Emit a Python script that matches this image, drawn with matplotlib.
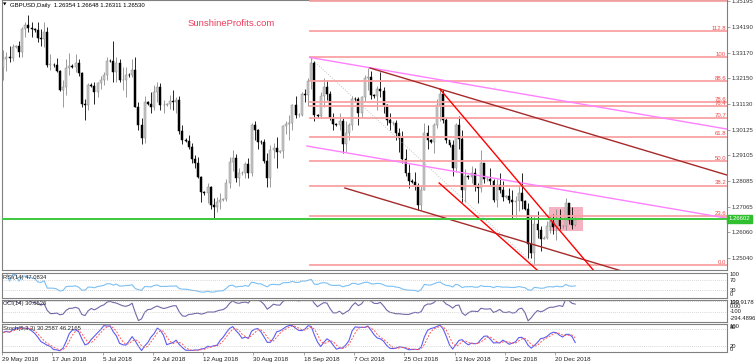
import numpy as np
import pandas as pd
import matplotlib
matplotlib.use("Agg")
import matplotlib.pyplot as plt
import matplotlib.transforms as mtransforms
from matplotlib.patches import Rectangle

plt.rcParams['font.family'] = ['Liberation Sans', 'DejaVu Sans']

# ---- price data (daily bars incl. short Sunday bars) ----
first_open = 1.3255
highs = [1.3327, 1.3320, 1.3345, 1.3350, 1.3348, 1.3365, 1.3420, 1.3440, 1.3468, 1.3440,
         1.3415, 1.3440, 1.3410, 1.3440, 1.3418, 1.3310, 1.3275, 1.3295, 1.3250, 1.3210,
         1.3290, 1.3315, 1.3272, 1.3310, 1.3290, 1.3240, 1.3135, 1.3195, 1.3195, 1.3200,
         1.3200, 1.3225, 1.3240, 1.3300, 1.3292, 1.3363, 1.3300, 1.3290, 1.3260, 1.3260,
         1.3236, 1.3290, 1.3300, 1.3120, 1.3060, 1.3145, 1.3125, 1.3160, 1.3190, 1.3200,
         1.3195, 1.3130, 1.3118, 1.3150, 1.3170, 1.3140, 1.3145, 1.3030, 1.2978, 1.2990,
         1.2960, 1.2910, 1.2905, 1.2830, 1.2770, 1.2800, 1.2790, 1.2740, 1.2745, 1.2760,
         1.2742, 1.2815, 1.2905, 1.2930, 1.2915, 1.2860, 1.2848, 1.2885, 1.2900, 1.3040,
         1.3045, 1.3015, 1.2972, 1.2975, 1.2920, 1.2950, 1.2960, 1.2985, 1.2932, 1.3030,
         1.3045, 1.3070, 1.3115, 1.3145, 1.3078, 1.3160, 1.3175, 1.3215, 1.3298, 1.3285,
         1.3075, 1.3160, 1.3215, 1.3210, 1.3165, 1.3080, 1.3040, 1.3080, 1.3060, 1.3045,
         1.3040, 1.3145, 1.3142, 1.3140, 1.3145, 1.3230, 1.3257, 1.3245, 1.3155, 1.3185,
         1.3240, 1.3180, 1.3115, 1.3080, 1.3048, 1.3050, 1.3020, 1.3005, 1.2935, 1.2875,
         1.2815, 1.2845, 1.2800, 1.2790, 1.3040, 1.3030, 1.2975, 1.3040, 1.3135, 1.3175,
         1.3170, 1.3060, 1.2965, 1.2970, 1.3040, 1.3065, 1.3010, 1.2855, 1.2832, 1.2870,
         1.2860, 1.2800, 1.2930, 1.2875, 1.2830, 1.2860, 1.2815, 1.2815, 1.2840, 1.2810,
         1.2755, 1.2780, 1.2775, 1.2750, 1.2795, 1.2840, 1.2732, 1.2720, 1.2670, 1.2670,
         1.2690, 1.2630, 1.2592, 1.2650, 1.2675, 1.2680, 1.2700, 1.2700, 1.2636, 1.2740,
         1.2720, 1.2705, 1.26648]
lows = [1.3209, 1.3245, 1.3280, 1.3285, 1.3334, 1.3300, 1.3300, 1.3380, 1.3400, 1.3380,
        1.3400, 1.3360, 1.3345, 1.3340, 1.3260, 1.3250, 1.3262, 1.3240, 1.3165, 1.3100,
        1.3150, 1.3230, 1.3258, 1.3240, 1.3225, 1.3100, 1.3050, 1.3090, 1.3180, 1.3115,
        1.3140, 1.3175, 1.3190, 1.3210, 1.3278, 1.3200, 1.3200, 1.3200, 1.3170, 1.3140,
        1.3222, 1.3220, 1.3100, 1.3010, 1.2957, 1.2960, 1.3108, 1.3080, 1.3090, 1.3120,
        1.3090, 1.3080, 1.3105, 1.3095, 1.3090, 1.3080, 1.2995, 1.2955, 1.2962, 1.2935,
        1.2880, 1.2860, 1.2820, 1.2725, 1.2752, 1.2720, 1.2700, 1.2662, 1.2685, 1.2700,
        1.2728, 1.2730, 1.2780, 1.2850, 1.2805, 1.2790, 1.2832, 1.2820, 1.2820, 1.2830,
        1.2970, 1.2935, 1.2955, 1.2880, 1.2785, 1.2785, 1.2900, 1.2860, 1.2918, 1.2900,
        1.2995, 1.2970, 1.3010, 1.3060, 1.3062, 1.3065, 1.3120, 1.3105, 1.3175, 1.3045,
        1.3058, 1.3060, 1.3100, 1.3130, 1.3050, 1.3010, 1.3025, 1.3010, 1.2920, 1.2925,
        1.2970, 1.3010, 1.3126, 1.3030, 1.3060, 1.3125, 1.3170, 1.3135, 1.3138, 1.3090,
        1.3140, 1.3080, 1.3030, 1.3010, 1.3032, 1.2970, 1.2925, 1.2880, 1.2830, 1.2780,
        1.2800, 1.2775, 1.2695, 1.2695, 1.2775, 1.2935, 1.2958, 1.2920, 1.3020, 1.3045,
        1.3040, 1.2960, 1.2945, 1.2830, 1.2845, 1.2935, 1.2725, 1.2725, 1.2815, 1.2800,
        1.2770, 1.2720, 1.2765, 1.2800, 1.2808, 1.2795, 1.2725, 1.2705, 1.2760, 1.2730,
        1.2740, 1.2720, 1.2660, 1.2665, 1.2690, 1.2700, 1.2695, 1.2505, 1.2505, 1.2477,
        1.2585, 1.2530, 1.2578, 1.2580, 1.2605, 1.2600, 1.2575, 1.2620, 1.2624, 1.2615,
        1.2640, 1.2620, 1.26311]
closes = [1.3290, 1.3300, 1.3295, 1.3340, 1.3342, 1.3320, 1.3410, 1.3425, 1.3415, 1.3410,
          1.3405, 1.3375, 1.3370, 1.3400, 1.3270, 1.3270, 1.3268, 1.3245, 1.3170, 1.3180,
          1.3255, 1.3265, 1.3262, 1.3275, 1.3235, 1.3115, 1.3110, 1.3190, 1.3185, 1.3160,
          1.3195, 1.3210, 1.3230, 1.3285, 1.3283, 1.3240, 1.3275, 1.3210, 1.3210, 1.3230,
          1.3228, 1.3250, 1.3100, 1.3030, 1.2980, 1.3120, 1.3115, 1.3100, 1.3160, 1.3180,
          1.3110, 1.3110, 1.3112, 1.3125, 1.3120, 1.3130, 1.3005, 1.2970, 1.2968, 1.2945,
          1.2895, 1.2880, 1.2825, 1.2765, 1.2760, 1.2785, 1.2715, 1.2705, 1.2725, 1.2735,
          1.2738, 1.2800, 1.2885, 1.2900, 1.2820, 1.2840, 1.2842, 1.2875, 1.2840, 1.3030,
          1.3010, 1.2965, 1.2962, 1.2890, 1.2820, 1.2930, 1.2940, 1.2925, 1.2928, 1.3025,
          1.3035, 1.3040, 1.3110, 1.3070, 1.3072, 1.3155, 1.3150, 1.3205, 1.3275, 1.3070,
          1.3065, 1.3145, 1.3180, 1.3155, 1.3060, 1.3035, 1.3032, 1.3045, 1.2955, 1.3000,
          1.3030, 1.3135, 1.3132, 1.3080, 1.3140, 1.3215, 1.3220, 1.3150, 1.3145, 1.3175,
          1.3165, 1.3110, 1.3050, 1.3040, 1.3040, 1.3000, 1.2980, 1.2895, 1.2840, 1.2810,
          1.2805, 1.2790, 1.2715, 1.2775, 1.3000, 1.2970, 1.2965, 1.3030, 1.3110, 1.3155,
          1.3050, 1.2970, 1.2950, 1.2860, 1.3030, 1.2975, 1.2775, 1.2830, 1.2825, 1.2840,
          1.2790, 1.2780, 1.2880, 1.2815, 1.2818, 1.2810, 1.2735, 1.2795, 1.2775, 1.2745,
          1.2750, 1.2735, 1.2725, 1.2730, 1.2760, 1.2730, 1.2700, 1.2560, 1.2525, 1.2640,
          1.2615, 1.2580, 1.2585, 1.2630, 1.2645, 1.2625, 1.2660, 1.2630, 1.2632, 1.2720,
          1.2655, 1.26354, 1.26530]

# trading calendar of the broker: every day except Saturday, no bar on Christmas
all_days = pd.date_range('2018-05-29', '2018-12-28', freq='D')
dates = all_days[(all_days.dayofweek != 5) & (all_days != pd.Timestamp('2018-12-25'))]

tick_dates = ['2018-05-29', '2018-06-17', '2018-07-05', '2018-07-24', '2018-08-12', '2018-08-30',
              '2018-09-18', '2018-10-07', '2018-10-25', '2018-11-13', '2018-12-02', '2018-12-20']
tick_labels = ['29 May 2018', '17 Jun 2018', '5 Jul 2018', '24 Jul 2018', '12 Aug 2018', '30 Aug 2018',
               '18 Sep 2018', '7 Oct 2018', '25 Oct 2018', '13 Nov 2018', '2 Dec 2018', '20 Dec 2018']

price_ticks = [1.35195, 1.34190, 1.33170, 1.32150, 1.31130, 1.30125, 1.29105,
               1.28085, 1.27065, 1.26060, 1.25040]

# fibonacci retracement between the 20 Sep high and the 12 Dec low
fib_high = 1.3298
fib_low = 1.2477
fib_levels = [0.0, 23.6, 38.2, 50.0, 61.8, 70.7, 76.4, 78.6, 88.6, 100.0, 112.8, 127.2]
fib_labels = ['0.0', '23.6', '38.2', '50.0', '61.8', '70.7', '76.4', '78.6', '88.6', '100', '112.8', '']
fib_start = 97.6

support_level = 1.26602

# drawn trend lines as (bar, price) -> (bar, price), extended to the right
pink_upper = [(97.6, 1.3298), (200.0, 1.30792)]
pink_lower = [(96.6, 1.29474), (200.0, 1.27264)]
brown_upper = [(116.7, 1.32562), (200.0, 1.29455)]
brown_lower = [(108.7, 1.27812), (200.0, 1.24407)]
red_upper = [(139.0, 1.3172), (187.7, 1.2457)]
red_lower = [(138.7, 1.2801), (169.2, 1.2464)]
fib_diag = [(97.6, 1.3298), (169.0, 1.2477)]
range_box = [173.7, 184.5, 1.2611, 1.2706]

# ---- derived series ----
opens = [first_open] + closes[:-1]
x = np.arange(len(closes))
o = np.array(opens)
c = np.array(closes)
h = np.array(highs)
l = np.array(lows)
assert len(dates) == len(c) == len(h) == len(l)

cs, hs, ls = pd.Series(c), pd.Series(h), pd.Series(l)
delta = cs.diff().fillna(0)
gain = delta.clip(lower=0).ewm(alpha=1 / 14, adjust=False).mean()
loss = (-delta.clip(upper=0)).ewm(alpha=1 / 14, adjust=False).mean()
rsi = 100 - 100 / (1 + gain / loss)

tp = (hs + ls + cs) / 3
sma = tp.rolling(14, min_periods=1).mean()
mad = tp.rolling(14, min_periods=1).apply(lambda w: np.mean(np.abs(w - w.mean())), raw=True)
cci = (tp - sma) / (0.015 * mad)

ll = ls.rolling(5, min_periods=1).min()
hh = hs.rolling(5, min_periods=1).max()
stoch_k = 100 * (cs - ll).rolling(3, min_periods=1).sum() / (hh - ll).rolling(3, min_periods=1).sum()
stoch_d = stoch_k.rolling(3, min_periods=1).mean()

# ---- figure layout (pixel based, like the terminal window) ----
W, H = 755, 363
fig = plt.figure(figsize=(W / 100, H / 100), dpi=100)
fig.patch.set_facecolor('white')


def panel(top, bottom):
    return fig.add_axes([2 / W, 1 - bottom / H, 725 / W, (bottom - top) / H])


ax = panel(0, 270)
ax_rsi = panel(272.5, 297.5)
ax_cci = panel(299.5, 321.5)
ax_sto = panel(323.5, 352)

x_lim = (-0.41, 230.3)
for a in (ax, ax_rsi, ax_cci, ax_sto):
    a.set_xlim(*x_lim)
    a.set_facecolor('white')
    for s in a.spines.values():
        s.set_color('#808080')
        s.set_linewidth(0.8)
    a.tick_params(axis='x', bottom=False, labelbottom=False)
    a.yaxis.tick_right()
    a.tick_params(axis='y', length=2, width=0.5, color='#808080', labelsize=4.3,
                  labelcolor='#333333', pad=1.5)

ax.set_ylim(1.24566, 1.35254)
ax.set_yticks(price_ticks)
ax.set_yticklabels(['%.5f' % p for p in price_ticks])

# range rectangle (background)
ax.add_patch(Rectangle((range_box[0], range_box[2]), range_box[1] - range_box[0],
                       range_box[3] - range_box[2], facecolor='#F5B3C2', edgecolor='none', zorder=0.5))

# candles
bull = c >= o
wick_col = np.where(bull, '#8C8C8C', '#000000')
face_col = np.where(bull, '#CACACA', '#000000')
edge_col = np.where(bull, '#8C8C8C', '#000000')
ax.vlines(x, l, h, colors=wick_col, linewidth=0.6, zorder=2)
body = np.maximum(np.abs(c - o), 0.00004)
ax.bar(x, body, bottom=np.minimum(o, c), width=0.62, color=face_col,
       edgecolor=edge_col, linewidth=0.35, zorder=2.1)

# fibonacci levels
x_end = x_lim[1]
rng = fib_high - fib_low
for lev, lab in zip(fib_levels, fib_labels):
    p = fib_low + rng * lev / 100
    ax.plot([fib_start, x_end], [p, p], color='#F9A3A3', linewidth=1.3, zorder=3)
    if lab:
        ax.text(x_end - 0.3, p + 0.0001, lab, ha='right', va='bottom', fontsize=4.3,
                color='#F04848', zorder=4, clip_on=True)


def ray(pts, **kw):
    (x0, y0), (x1, y1) = pts
    slope = (y1 - y0) / (x1 - x0)
    ax.plot([x0, x_end], [y0, y0 + slope * (x_end - x0)], zorder=3.5, **kw)


ray(pink_upper, color='#FF80FF', linewidth=1.0)
ray(pink_lower, color='#FF80FF', linewidth=1.0)
ray(brown_upper, color='#A52A2A', linewidth=1.0)
ray(brown_lower, color='#A52A2A', linewidth=1.0)
ray(red_upper, color='#FF0000', linewidth=1.0)
ray(red_lower, color='#FF0000', linewidth=1.0)
ax.plot([fib_diag[0][0], fib_diag[1][0]], [fib_diag[0][1], fib_diag[1][1]],
        color='#B0B0B0', linewidth=0.6, linestyle=(0, (1, 2)), zorder=3)

# support line
ax.axhline(support_level, color='#3CC83C', linewidth=1.4, zorder=3.6)
trans = mtransforms.blended_transform_factory(ax.transAxes, ax.transData)
ax.text(1.002, support_level, '%.5f' % support_level, transform=trans, ha='left', va='center',
        fontsize=4.3, color='white', zorder=5, clip_on=False,
        bbox=dict(boxstyle='square,pad=0.25', facecolor='#2FBF2F', edgecolor='#2FBF2F'))

# header texts
fig.text(3 / W, 1 - 5 / H, '\u25BC', fontsize=3.2, va='center', ha='left', color='#000000',
         family='DejaVu Sans')
fig.text(9.5 / W, 1 - 5 / H, 'GBPUSD,Daily  1.26354 1.26648 1.26311 1.26530', fontsize=4.3,
         va='center', ha='left', color='#000000')
fig.text(188 / W, 1 - 23.5 / H, 'SunshineProfits.com', fontsize=6.8, va='center', ha='left',
         color='#EB3C5A')

# ---- indicator panels ----
ax_rsi.plot(x, rsi, color='#7CC0F4', linewidth=0.8)
ax_rsi.set_ylim(0, 100)
for lvl in (70, 30):
    ax_rsi.axhline(lvl, color='#B4B4B4', linewidth=0.5, linestyle=(0, (1, 2)))

cci_max, cci_min = 133.9178, -294.4896
ax_cci.plot(x, cci, color='#7069A8', linewidth=0.8)
ax_cci.set_ylim(cci_min, cci_max)
for lvl in (100, -100):
    ax_cci.axhline(lvl, color='#B4B4B4', linewidth=0.5, linestyle=(0, (1, 2)))

ax_sto.plot(x, stoch_k, color='#5C5CF2', linewidth=0.8)
ax_sto.plot(x, stoch_d, color='#FF5A5A', linewidth=0.7, linestyle=(0, (2, 1.5)))
ax_sto.set_ylim(0, 100)
for lvl in (80, 20):
    ax_sto.axhline(lvl, color='#B4B4B4', linewidth=0.5, linestyle=(0, (1, 2)))

side_labels = {
    ax_rsi: [('100', 100, 'top'), ('70', 70, 'center'), ('30', 30, 'center'), ('0', 0, 'bottom')],
    ax_cci: [('133.9178', cci_max, 'top'), ('100', cci_max, 'top'), ('0.00', 0, 'center'),
             ('-100', -100, 'center'), ('-294.4896', cci_min, 'bottom')],
    ax_sto: [('100', 100, 'top'), ('80', 95, 'top'), ('20', 20, 'center'), ('0', 0, 'bottom')],
}
for a, items in side_labels.items():
    a.set_yticks([])
    tr = mtransforms.blended_transform_factory(a.transAxes, a.transData)
    for txt, yv, va in items:
        a.text(1.004, yv, txt, transform=tr, ha='left', va=va, fontsize=4.2,
               color='#222222', clip_on=False)

ax_rsi.text(0.002, 0.8, 'RSI(14) 47.0834', transform=ax_rsi.transAxes, fontsize=4.2,
            va='center', ha='left', color='#222222')
ax_cci.text(0.002, 0.8, 'CCI(14) 30.6526', transform=ax_cci.transAxes, fontsize=4.2,
            va='center', ha='left', color='#222222')
ax_sto.text(0.002, 0.82, 'Stoch(5,3,3) 30.2587 46.2165', transform=ax_sto.transAxes, fontsize=4.2,
            va='center', ha='left', color='#222222')

# date axis
tick_pos = dates.get_indexer(pd.to_datetime(tick_dates)) - 0.4
ax_sto.set_xticks(tick_pos)
ax_sto.set_xticklabels(tick_labels, ha='left')
ax_sto.tick_params(axis='x', bottom=True, labelbottom=True, length=2, width=0.5,
                   color='#808080', labelsize=4.5, labelcolor='#222222', pad=1.5)

fig.savefig('out.png', dpi=100)
